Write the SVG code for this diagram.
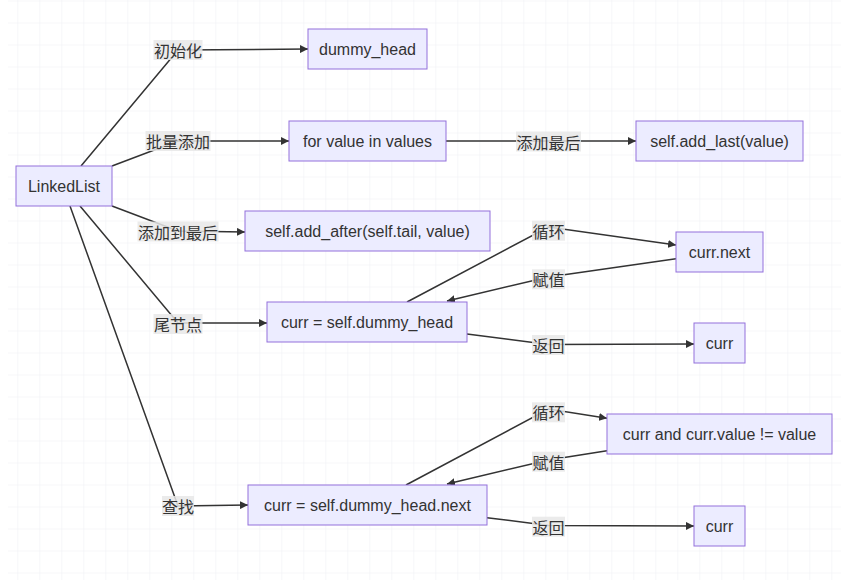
<svg xmlns="http://www.w3.org/2000/svg" width="849" height="587" viewBox="0 0 849 587">
<style>
.node rect{fill:#ECECFF;stroke:#9370DB;stroke-width:1}
.node text{font-family:"Liberation Sans","Noto Sans CJK SC",sans-serif;font-size:16px;fill:#333;text-anchor:middle;dominant-baseline:central}
.edge{fill:none;stroke:#333;stroke-width:1.5;marker-end:url(#arrow)}
.lbl rect{fill:#e8e8e8;opacity:0.85}
.lbl text{font-family:"Noto Sans CJK SC","Liberation Sans",sans-serif;font-size:16px;fill:#333;text-anchor:middle;dominant-baseline:central}
</style>
<defs>
<pattern id="grid" x="17.3" y="0.5" width="22" height="22" patternUnits="userSpaceOnUse">
<path d="M0,0 V22 M0,0 H22" fill="none" stroke="#eef0f4" stroke-width="1"/>
</pattern>
<marker id="arrow" viewBox="0 0 10 10" refX="10" refY="5" markerWidth="8" markerHeight="8" markerUnits="userSpaceOnUse" orient="auto">
<path d="M0,0 L10,5 L0,10 z" fill="#333"/>
</marker>
</defs>
<rect x="0" y="0" width="849" height="587" fill="#ffffff"/>
<rect x="8" y="0" width="833" height="580" fill="url(#grid)"/>
<g id="connectors">
<path class="edge" d="M81,166 L178,50 L308,49"/>
<path class="edge" d="M112,166 L178,141 L289,141"/>
<path class="edge" d="M446,141 L548.5,141 L636,141"/>
<path class="edge" d="M112,206 L178,231 L245,232"/>
<path class="edge" d="M80,206 L178,323 L267,323"/>
<path class="edge" d="M70,206 L178,506 L248,505"/>
<path class="edge" d="M407,302 L548.5,227 L676,245"/>
<path class="edge" d="M676,258.7 L548.5,277 L447,301"/>
<path class="edge" d="M467,334 L548.5,344.5 L694,344"/>
<path class="edge" d="M406,485 L548.5,409 L607,418.3"/>
<path class="edge" d="M607,450.7 L548.5,460 L447,484"/>
<path class="edge" d="M487,517.7 L548.5,525.5 L694,526"/>
<g class="lbl"><rect x="153.5" y="40" width="49" height="20"/><text x="178" y="50">初始化</text></g>
<g class="lbl"><rect x="145.5" y="131" width="65" height="20"/><text x="178" y="141">批量添加</text></g>
<g class="lbl"><rect x="516" y="131.5" width="65" height="20"/><text x="548.5" y="141.5">添加最后</text></g>
<g class="lbl"><rect x="137.5" y="221.5" width="81" height="20"/><text x="178" y="231.5">添加到最后</text></g>
<g class="lbl"><rect x="153.5" y="314" width="49" height="20"/><text x="178" y="324">尾节点</text></g>
<g class="lbl"><rect x="162" y="496" width="32" height="20"/><text x="178" y="506">查找</text></g>
<g class="lbl"><rect x="532" y="220.7" width="33" height="20"/><text x="548.5" y="230.7">循环</text></g>
<g class="lbl"><rect x="532" y="269.3" width="33" height="20"/><text x="548.5" y="279.3">赋值</text></g>
<g class="lbl"><rect x="532" y="335" width="33" height="20"/><text x="548.5" y="345">返回</text></g>
<g class="lbl"><rect x="532" y="402.3" width="33" height="20"/><text x="548.5" y="412.3">循环</text></g>
<g class="lbl"><rect x="532" y="451.7" width="33" height="20"/><text x="548.5" y="461.7">赋值</text></g>
<g class="lbl"><rect x="532" y="516.7" width="33" height="20"/><text x="548.5" y="526.7">返回</text></g>
</g>
<g id="n_linkedlist" class="node"><rect x="16" y="166" width="96" height="40"/><text x="64" y="186">LinkedList</text></g>
<g id="n_dummy_head" class="node"><rect x="308" y="29" width="119" height="40"/><text x="367.5" y="49">dummy_head</text></g>
<g id="n_for_values" class="node"><rect x="289" y="121" width="157" height="40"/><text x="367.5" y="141">for value in values</text></g>
<g id="n_add_last" class="node"><rect x="636" y="121" width="167" height="40"/><text x="719.5" y="141">self.add_last(value)</text></g>
<g id="n_add_after" class="node"><rect x="245" y="211" width="245" height="40"/><text x="367.5" y="231">self.add_after(self.tail, value)</text></g>
<g id="n_curr_head" class="node"><rect x="267" y="302" width="200" height="40"/><text x="367" y="322">curr = self.dummy_head</text></g>
<g id="n_curr_next" class="node"><rect x="676" y="232" width="87" height="40"/><text x="719.5" y="252">curr.next</text></g>
<g id="n_curr_ret1" class="node"><rect x="694" y="323" width="51" height="40"/><text x="719.5" y="343">curr</text></g>
<g id="n_curr_headnext" class="node"><rect x="248" y="485" width="239" height="40"/><text x="367.5" y="505">curr = self.dummy_head.next</text></g>
<g id="n_cond" class="node"><rect x="607" y="414" width="225" height="40"/><text x="719.5" y="434">curr and curr.value != value</text></g>
<g id="n_curr_ret2" class="node"><rect x="694" y="506" width="51" height="40"/><text x="719.5" y="526">curr</text></g>
</svg>
